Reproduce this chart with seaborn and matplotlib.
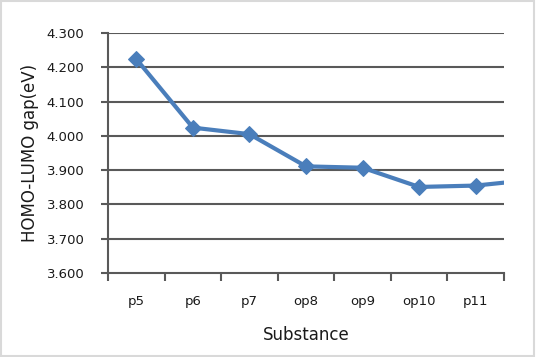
import matplotlib
matplotlib.use("Agg")
import matplotlib.pyplot as plt
from matplotlib.patches import Rectangle
from matplotlib.ticker import FixedLocator
import seaborn as sns
import pandas as pd

substances = ["p5", "p6", "p7", "op8", "op9", "op10", "p11", "p12"]
gap_ev = [4.224, 4.024, 4.005, 3.911, 3.907, 3.851, 3.855, 3.872]
y_ticks = [3.6, 3.7, 3.8, 3.9, 4.0, 4.1, 4.2, 4.3]

df = pd.DataFrame({"substance": substances, "gap": gap_ev})

sns.set_style("white")
plt.rcParams['font.family'] = ['DejaVu Sans']

fig = plt.figure(figsize=(5.36, 3.57), dpi=100)
ax = fig.add_axes([108 / 536, 1 - 273 / 357, (504 - 108) / 536, (273 - 33) / 357])

grid_c = "#595959"
line_c = "#4a7ebb"
text_c = "#1a1a1a"

sns.lineplot(data=df, x="substance", y="gap", ax=ax, sort=False, color=line_c,
             lw=3, marker="D", markersize=8, markeredgecolor=line_c, zorder=3)

ax.set_xlim(-0.5, 6.5)
ax.set_ylim(3.6, 4.3)
ax.set_yticks(y_ticks)
ax.set_yticklabels([f"{v:.3f}" for v in y_ticks])
ax.set_xticks(range(7))
ax.set_xticklabels(substances[:7])
ax.xaxis.set_minor_locator(FixedLocator([i - 0.5 for i in range(8)]))

for v in y_ticks[1:]:
    ax.axhline(v, color=grid_c, lw=1.5, zorder=1)

for side in ["top", "right"]:
    ax.spines[side].set_visible(False)
for side in ["left", "bottom"]:
    ax.spines[side].set_color(grid_c)
    ax.spines[side].set_linewidth(1.5)

ax.tick_params(axis="x", which="major", bottom=True, length=0, pad=16, labelsize=9.5, colors=text_c)
ax.tick_params(axis="x", which="minor", bottom=True, direction="out", length=6, width=1.5, color=grid_c)
ax.tick_params(axis="y", which="major", left=True, direction="out", length=5, width=1.5,
               color=grid_c, labelsize=9.5, labelcolor=text_c, pad=12)

ax.set_xlabel("Substance", fontsize=12, color=text_c)
ax.set_ylabel("HOMO-LUMO gap(eV)", fontsize=12, color=text_c)
ax.xaxis.set_label_coords(0.5, -0.22)
ax.yaxis.set_label_coords(-0.175, 0.5)

fig.patches.append(Rectangle((0.002, 0.003), 0.995, 0.994, transform=fig.transFigure,
                             fill=False, edgecolor="#d9d9d9", lw=1.5))

fig.savefig("out.png", dpi=100)
